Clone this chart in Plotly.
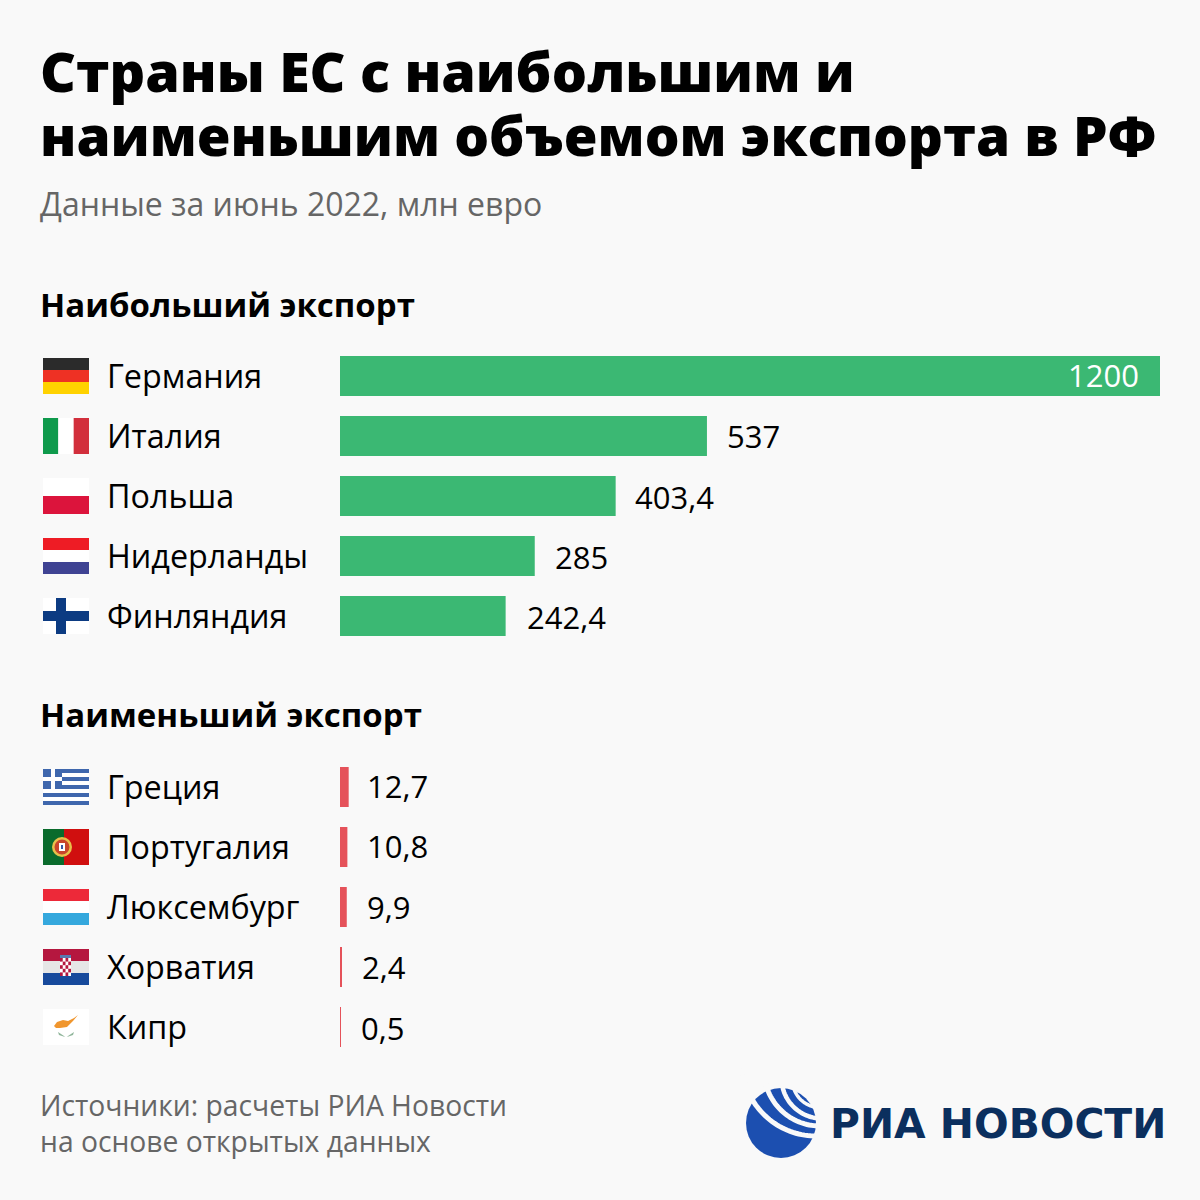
import numpy as np
import plotly.graph_objects as go

# data
top_countries = ['Германия', 'Италия', 'Польша', 'Нидерланды', 'Финляндия']
top_values = [1200, 537, 403.4, 285, 242.4]
top_labels = ['1200', '537', '403,4', '285', '242,4']

low_countries = ['Греция', 'Португалия', 'Люксембург', 'Хорватия', 'Кипр']
low_values = [12.7, 10.8, 9.9, 2.4, 0.5]
low_labels = ['12,7', '10,8', '9,9', '2,4', '0,5']

# the value labels sit a pixel or so off their regular place in the original
top_nudge_y = [1, 0, -1, -1, -1]
low_nudge_y = [1, 1, 0, 0, -1]
top_nudge_x = [0, 0, -1, 0, 1]
low_nudge_x = [-2, 0, 0, 0, 1]

BG = '#f9f9f9'
GREEN = '#3bb873'
RED = '#e5525a'
FONT = 'Open Sans'
SIZE = 1200


def px(x):
    return x / SIZE


def py(y):
    return 1 - y / SIZE


def rect(x0, y0, x1, y1, color):
    return dict(type='rect', xref='paper', yref='paper', x0=px(x0), x1=px(x1),
                y0=py(y0), y1=py(y1), fillcolor=color, line_width=0, layer='above')


def circle(cx, cy, r, color):
    return dict(type='circle', xref='paper', yref='paper', x0=px(cx - r), x1=px(cx + r),
                y0=py(cy - r), y1=py(cy + r), fillcolor=color, line_width=0, layer='above')


def poly(points, color):
    path = 'M' + ' L'.join(f'{px(x):.5f},{py(y):.5f}' for x, y in points) + ' Z'
    return dict(type='path', xref='paper', yref='paper', path=path, fillcolor=color,
                line_width=0, layer='above')


def arc(cx, cy, r, a0, a1, width, color):
    # line shape along a circle, angles in degrees, screen y down
    t = np.radians(np.linspace(a0, a1, 40))
    pts = [(cx + r * np.cos(a), cy + r * np.sin(a)) for a in t]
    path = 'M' + ' L'.join(f'{px(x):.5f},{py(y):.5f}' for x, y in pts)
    return dict(type='path', xref='paper', yref='paper', path=path,
                line=dict(color=color, width=width), layer='above')


def stripes(cy, colors):
    h = 36 / len(colors)
    return [rect(43, cy - 18 + i * h, 89, cy - 18 + (i + 1) * h, c) for i, c in enumerate(colors)]


def vstripes(cy, colors):
    w = 46 / len(colors)
    return [rect(43 + i * w, cy - 18, 43 + (i + 1) * w, cy + 18, c) for i, c in enumerate(colors)]


shapes = []
# flags, top block
shapes += stripes(376, ['#2b2b2b', '#ee3124', '#ffd200'])
shapes += vstripes(436, ['#0f9a4c', '#ffffff', '#d22f3c'])
shapes += stripes(496, ['#ffffff', '#dc143c'])
shapes += stripes(556, ['#ee1c25', '#ffffff', '#3f4393'])
shapes += [rect(43, 598, 89, 634, '#ffffff'), rect(43, 611, 89, 621, '#0c3b82'),
           rect(56, 598, 66, 634, '#0c3b82')]

# flags, bottom block
shapes += stripes(787, ['#3f67ad', '#ffffff'] * 4 + ['#3f67ad'])
shapes += [rect(43, 769, 62, 789, '#3f67ad'), rect(43, 777, 62, 781, '#ffffff'),
           rect(51, 769, 55, 789, '#ffffff')]
# portugal
shapes += [rect(43, 829, 64, 865, '#0a6b2c'), rect(64, 829, 89, 865, '#d00f0f'),
           circle(62, 847, 10, '#e8c04a'), circle(62, 847, 7.5, '#c9452c'),
           rect(59, 843, 65, 851, '#ffffff'), rect(61, 845, 63, 849, '#3a5aa8')]
shapes += stripes(907, ['#ed2939', '#ffffff', '#35a8dd'])
# croatia
shapes += stripes(967, ['#b5173f', '#e6e6e6', '#174a9c'])
shapes += [rect(60, 955, 71, 958, '#5a78b0'), rect(60, 958, 71, 976, '#ffffff')]
for row in range(5):
    for col in range(4):
        if (row + col) % 2 == 0:
            shapes.append(rect(60 + col * 2.75, 958 + row * 3.6, 62.75 + col * 2.75, 961.6 + row * 3.6, '#b5173f'))
# cyprus
shapes += [rect(43, 1009, 89, 1045, '#ffffff'),
           poly([(54, 1026), (57, 1022), (63, 1020), (68, 1021), (74, 1018), (78, 1015), (73, 1021),
                 (70, 1024), (67, 1027), (60, 1028), (56, 1028)], '#f0962e'),
           poly([(58, 1032), (64, 1036), (65, 1037), (59, 1035)], '#8fb59a'),
           poly([(74, 1032), (68, 1036), (67, 1037), (73, 1035)], '#8fb59a')]

# logo: blue disc crossed by white curved bands
shapes.append(circle(781, 1123, 35, '#1c4fb0'))
for cx, cy, r, w in [(816, 1062, 74, 5), (820, 1070, 56, 5), (822, 1078, 40.5, 4.5), (820, 1080, 27.5, 3.5)]:
    shapes.append(arc(cx, cy, r, 85, 175, w, BG))

annotations = []


def note(x, y, text, size, color='#000000', weight=400, family=FONT):
    annotations.append(dict(x=px(x - 3), y=py(y), xref='paper', yref='paper', text=text, showarrow=False,
                            xanchor='left', yanchor='middle', align='left',
                            font=dict(family=family, size=size, color=color, weight=weight)))


note(41, 70, 'Страны ЕС с наибольшим и', 55.5, weight=800)
note(41, 134, 'наименьшим объемом экспорта в РФ', 54.75, weight=800)
note(41, 203, 'Данные за июнь 2022, млн евро', 32, color='#666666')
note(41, 304, 'Наибольший экспорт', 33, weight=700)
note(41, 714, 'Наименьший экспорт', 33, weight=700)
note(41, 1105, 'Источники: расчеты РИА Новости', 28.25, color='#666666')
note(41, 1141, 'на основе открытых данных', 28.25, color='#666666')
note(831, 1124, 'РИА НОВОСТИ', 40.8, color='#0b2f5e', weight=700, family='DejaVu Sans')


def add_row_text(countries, values, labels, nudge_x, nudge_y, yaxis):
    for name, val, lab, dx, dy in zip(countries, values, labels, nudge_x, nudge_y):
        annotations.append(dict(x=px(105), y=name, xref='paper', yref=yaxis, text=name, showarrow=False,
                                xanchor='left', yshift=1, font=dict(family=FONT, size=32.3, color='#000000')))
        inside = val == max(top_values)
        annotations.append(dict(x=val, y=name, xref='x' if yaxis == 'y' else 'x2', yref=yaxis, text=lab,
                                showarrow=False, xanchor='right' if inside else 'left',
                                xshift=(-19 if inside else 18) + dx, yshift=dy,
                                font=dict(family=FONT, size=31, color='#ffffff' if inside else '#000000')))


add_row_text(top_countries, top_values, top_labels, top_nudge_x, top_nudge_y, 'y')
add_row_text(low_countries, low_values, low_labels, low_nudge_x, low_nudge_y, 'y2')

fig = go.Figure()
fig.add_trace(go.Bar(x=top_values, y=top_countries, orientation='h', marker_color=GREEN,
                     marker_line_width=0, xaxis='x', yaxis='y', hoverinfo='skip'))
fig.add_trace(go.Bar(x=low_values, y=low_countries, orientation='h', marker_color=RED,
                     marker_line_width=0, xaxis='x2', yaxis='y2', hoverinfo='skip'))

axis_x = dict(domain=[px(340), px(1160)], range=[0, 1200], visible=False, fixedrange=True)
fig.update_layout(
    width=SIZE, height=SIZE,
    margin=dict(l=0, r=0, t=0, b=0),
    paper_bgcolor=BG, plot_bgcolor=BG,
    showlegend=False,
    bargap=1 / 3,
    font=dict(family=FONT),
    xaxis=dict(axis_x, anchor='y'),
    xaxis2=dict(axis_x, anchor='y2'),
    yaxis=dict(domain=[py(646), py(346)], autorange='reversed', visible=False, anchor='x',
               categoryorder='array', categoryarray=top_countries),
    yaxis2=dict(domain=[py(1057), py(757)], autorange='reversed', visible=False, anchor='x2',
                categoryorder='array', categoryarray=low_countries),
    shapes=shapes,
    annotations=annotations,
)

fig.write_html("out.html", config={'displayModeBar': False}, post_script="document.body.style.margin='0';")
